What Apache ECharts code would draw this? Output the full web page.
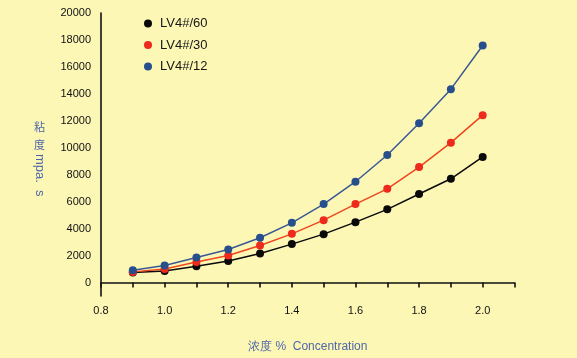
<!DOCTYPE html>
<html>
<head>
<meta charset="utf-8">
<script src="https://cdn.jsdelivr.net/npm/echarts@6/dist/echarts.min.js"></script>
<style>
html,body{margin:0;padding:0;background:#fdf7b6;}
#chart{width:577px;height:358px;}
</style>
</head>
<body>
<div id="chart"></div>
<script>
const concentration = [0.9, 1.0, 1.1, 1.2, 1.3, 1.4, 1.5, 1.6, 1.7, 1.8, 1.9, 2.0];
const seriesNames = ['LV4#/60', 'LV4#/30', 'LV4#/12'];
const lv60 = [740, 860, 1210, 1600, 2150, 2850, 3590, 4480, 5430, 6570, 7700, 9320];
const lv30 = [790, 1010, 1530, 2000, 2750, 3610, 4630, 5820, 6950, 8570, 10380, 12420];
const lv12 = [915, 1260, 1860, 2450, 3320, 4430, 5820, 7480, 9460, 11820, 14350, 17590];
const xTickLabels = [0.8, 1.0, 1.2, 1.4, 1.6, 1.8, 2.0];
const xTicks = [0.8, 0.9, 1.0, 1.1, 1.2, 1.3, 1.4, 1.5, 1.6, 1.7, 1.8, 1.9, 2.0, 2.1];
const yTickLabels = [0, 2000, 4000, 6000, 8000, 10000, 12000, 14000, 16000, 18000, 20000];

const colors = ['#0a0a0a', '#ee2a1c', '#274f8c'];
const lineColors = ['#0a0a0a', '#f0461e', '#3a5894'];
const titleColor = '#4f67a8';

const chart = echarts.init(document.getElementById('chart'));
const allData = [lv60, lv30, lv12];
chart.setOption({
  backgroundColor: '#fdf7b6',
  animation: false,
  textStyle: {fontFamily: 'Liberation Sans, Arial, sans-serif'},
  grid: {left: 101, right: 62.5, top: 13, bottom: 62, containLabel: false},
  legend: {
    orient: 'vertical', left: 139, top: 12, itemGap: 8.5,
    itemWidth: 8, itemHeight: 8, icon: 'circle',
    textStyle: {fontSize: 13, color: '#161616', padding: [0, 0, 0, 3], lineHeight: 13},
    data: seriesNames
  },
  xAxis: {
    type: 'value', min: 0.8, max: 2.1,
    name: '浓度 %  Concentration', nameLocation: 'middle', nameGap: 45,
    nameTextStyle: {color: titleColor, fontSize: 12},
    axisLine: {show: true, lineStyle: {color: '#111', width: 1.6}},
    axisTick: {show: true, inside: false, length: 5, customValues: xTicks, lineStyle: {color: '#111', width: 1.6}},
    axisLabel: {customValues: xTickLabels, margin: 9, fontSize: 11, color: '#111', formatter: v => v.toFixed(1)},
    splitLine: {show: false}
  },
  yAxis: {
    type: 'value', min: -1000, max: 20000,
    axisLine: {show: true, lineStyle: {color: '#111', width: 1.6}},
    axisTick: {show: false},
    axisLabel: {customValues: yTickLabels, margin: 10, fontSize: 11, color: '#111', formatter: v => String(v)},
    splitLine: {show: false}
  },
  graphic: [
    {type: 'text', left: 34, top: 121, style: {text: '粘', fontSize: 11, fill: titleColor, fontFamily: 'Noto Sans CJK SC'}},
    {type: 'text', left: 34, top: 139, style: {text: '度', fontSize: 11, fill: titleColor, fontFamily: 'Noto Sans CJK SC'}},
    {type: 'text', x: 46, y: 154, rotation: -Math.PI / 2, style: {text: 'mpa.  s', fontSize: 13, fill: titleColor, fontFamily: 'Liberation Sans, Arial, sans-serif'}}
  ],
  series: seriesNames.map((n, i) => ({
    name: n, type: 'line', smooth: false,
    symbol: 'circle', symbolSize: 8,
    itemStyle: {color: colors[i]},
    lineStyle: {color: lineColors[i], width: 1.5},
    data: concentration.map((c, j) => [c, allData[i][j]])
  }))
});
</script>
</body>
</html>
